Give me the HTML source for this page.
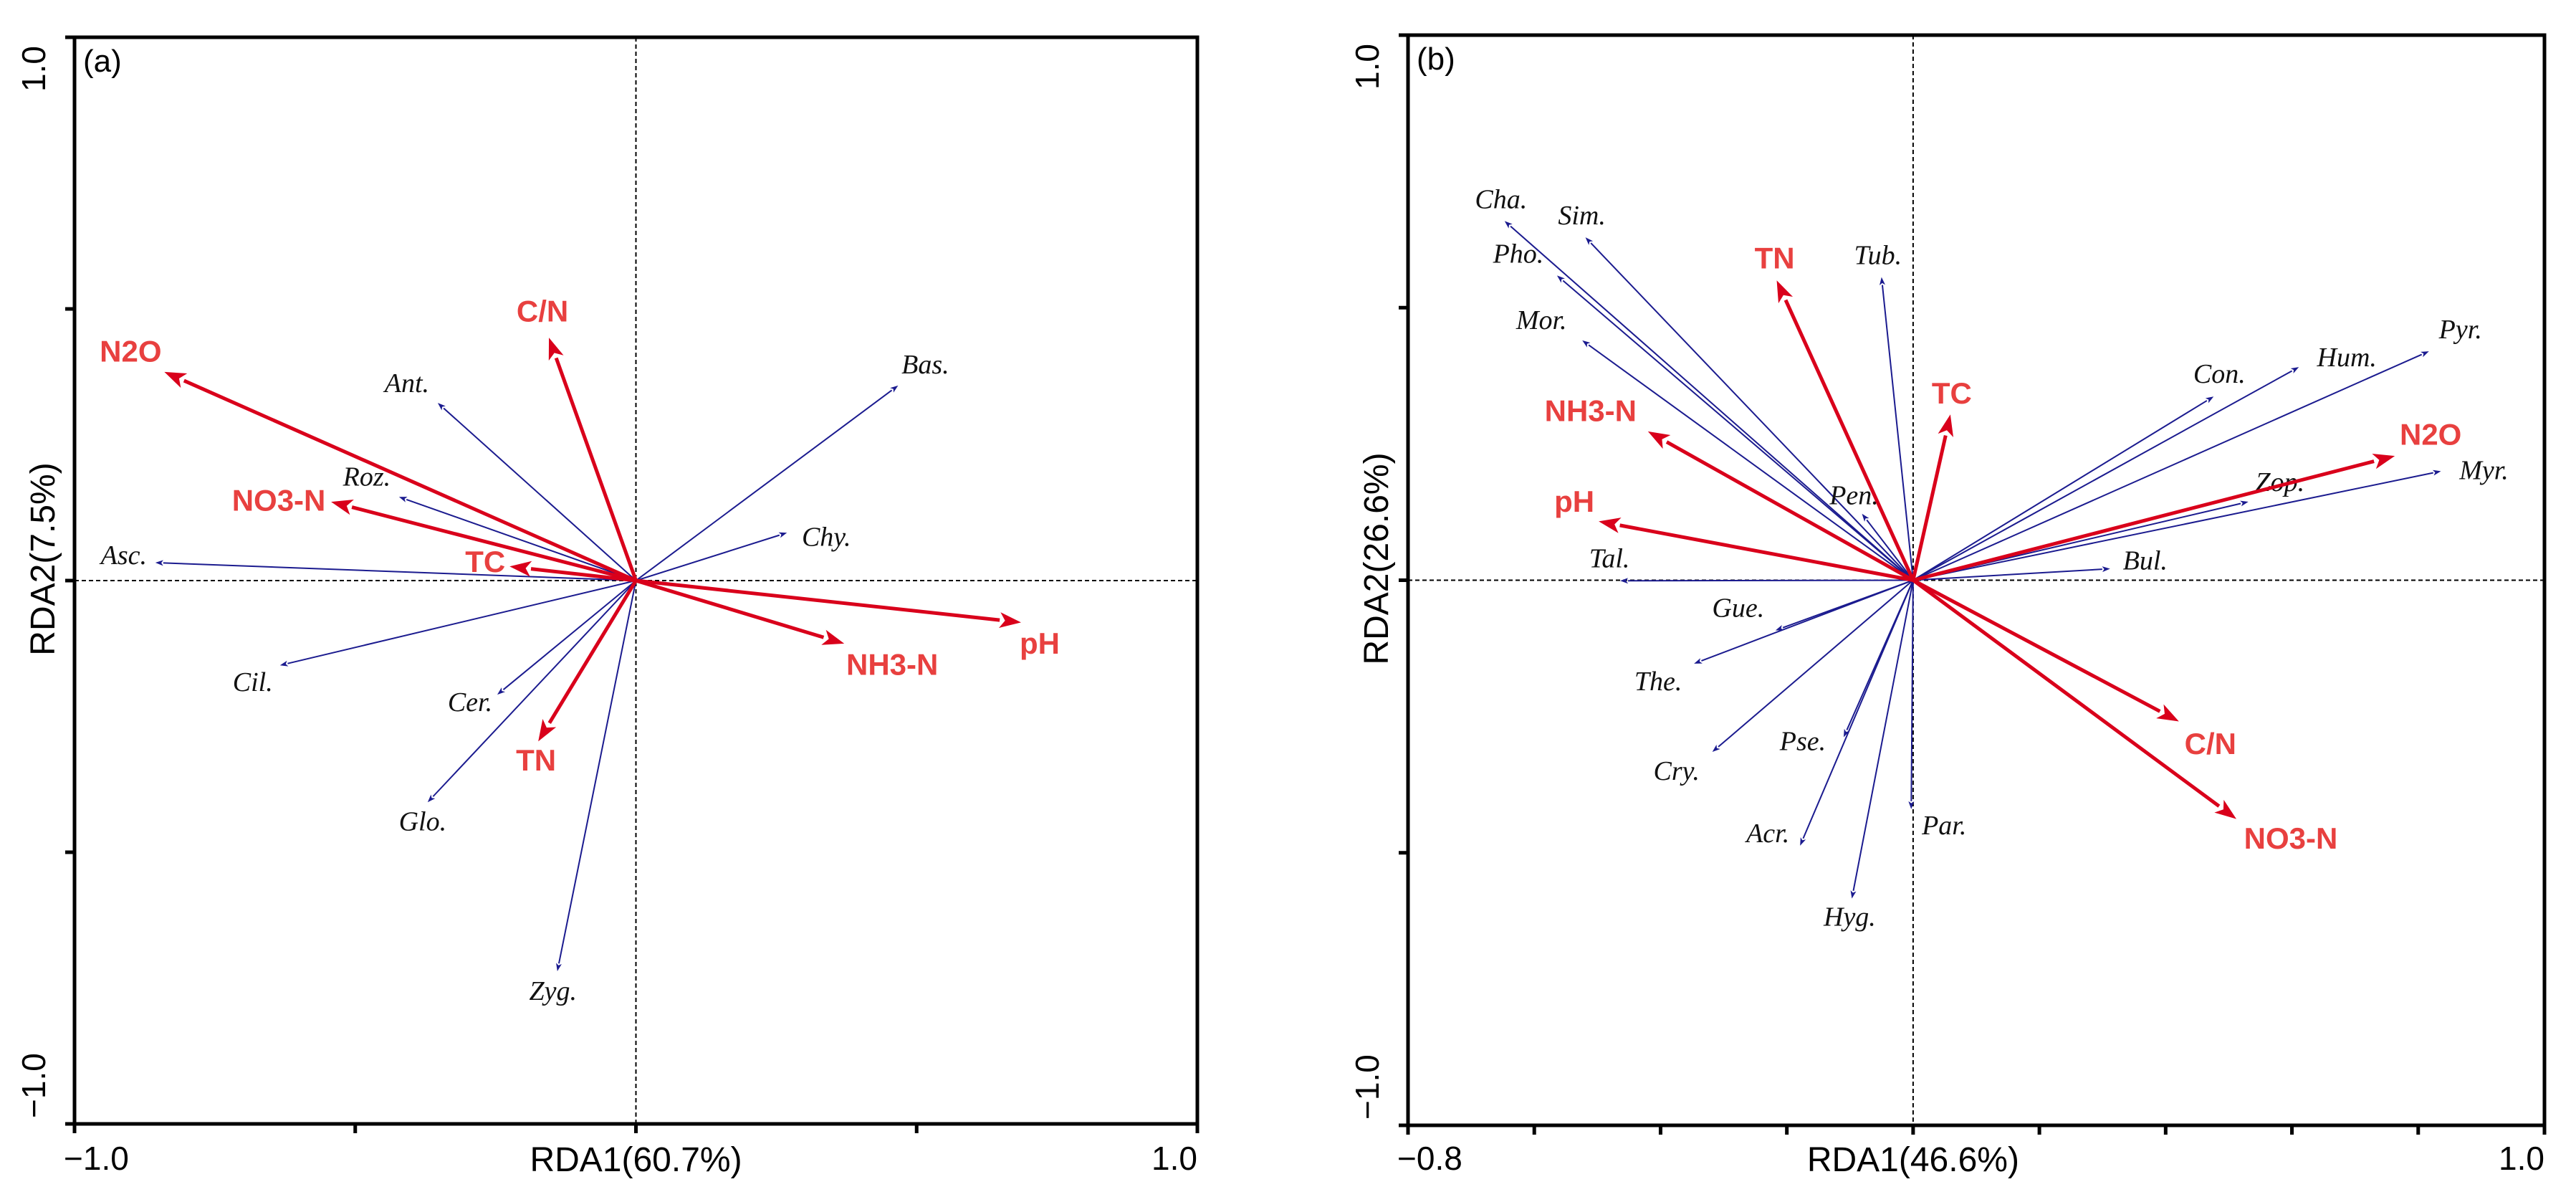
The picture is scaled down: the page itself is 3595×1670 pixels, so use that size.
<!DOCTYPE html>
<html><head><meta charset="utf-8"><style>
html,body{margin:0;padding:0;background:#fff;}
svg{display:block;}
.env{font-family:"Liberation Sans",sans-serif;font-weight:bold;font-size:42px;fill:#e8403f;}
.sp{font-family:"Liberation Serif",serif;font-style:italic;font-size:38px;fill:#111;}
.tick{font-family:"Liberation Sans",sans-serif;font-size:46px;fill:#000;}
.ttl{font-family:"Liberation Sans",sans-serif;font-size:48px;fill:#000;}
</style></head><body>
<svg id="chart" width="3595" height="1670" viewBox="0 0 3595 1670" xmlns="http://www.w3.org/2000/svg"></svg>
<script>
// Panel (a) data
const aEnvNames = ["N2O","C/N","NO3-N","TC","pH","NH3-N","TN"];
const aEnvX = [-0.840,-0.155,-0.543,-0.225,0.686,0.371,-0.174];
const aEnvY = [0.384,0.447,0.145,0.026,-0.077,-0.116,-0.296];
const aSpNames = ["Asc.","Roz.","Ant.","Bas.","Chy.","Cil.","Cer.","Glo.","Zyg."];
const aSpX = [-0.856,-0.422,-0.353,0.467,0.269,-0.634,-0.247,-0.371,-0.140];
const aSpY = [0.033,0.154,0.327,0.359,0.088,-0.156,-0.210,-0.408,-0.719];
// Panel (b) data
const bEnvNames = ["TN","TC","NH3-N","pH","N2O","C/N","NO3-N"];
const bEnvX = [-0.216,0.059,-0.420,-0.498,0.763,0.421,0.512];
const bEnvY = [0.550,0.304,0.273,0.108,0.228,-0.259,-0.438];
const bSpNames = ["Cha.","Sim.","Pho.","Mor.","Tub.","Pen.","Tal.","Gue.","The.","Cry.","Pse.","Acr.","Hyg.","Par.","Bul.","Zop.","Myr.","Con.","Hum.","Pyr."];
const bSpX = [-0.647,-0.519,-0.564,-0.524,-0.050,-0.081,-0.464,-0.218,-0.347,-0.318,-0.110,-0.179,-0.097,-0.003,0.312,0.531,0.836,0.476,0.611,0.817];
const bSpY = [0.659,0.629,0.559,0.440,0.556,0.122,-0.001,-0.092,-0.153,-0.315,-0.288,-0.487,-0.584,-0.420,0.021,0.144,0.200,0.337,0.391,0.420];

// label offsets (pixels, layout only)
const aEnvOff = [[-47,-29],[-9,-37],[-73,-2],[-34,-7],[26,29],[67,29],[-3,26]];
const aSpOff = [[-44,-10],[-45,-28],[-43,-27],[38,-29],[55,6],[-38,24],[-38,11],[-7,27],[-6,28]];
const bEnvOff = [[-3,-31],[2,-30],[-80,-29],[-34,-28],[50,-30],[44,31],[76,27]];
const bSpOff = [[-5,-30],[-5,-30],[-54,-30],[-57,-28],[-5,-30],[-11,-25],[-15,-31],[-52,-31],[-50,25],[-50,27],[-57,6],[-45,-17],[-3,26],[46,23],[49,-11],[44,-27],[60,-1],[8,-31],[67,-13],[44,-30]];

const NS = "http://www.w3.org/2000/svg";
const svg = document.getElementById("chart");
function mk(tag, attrs, parent){
  const e = document.createElementNS(NS, tag);
  for (const k in attrs) e.setAttribute(k, attrs[k]);
  (parent||svg).appendChild(e);
  return e;
}
function arrow(g, x1,y1,x2,y2,color,w,hl,hw){
  const dx=x2-x1, dy=y2-y1, L=Math.hypot(dx,dy), ux=dx/L, uy=dy/L;
  const bx=x2-ux*hl, by=y2-uy*hl;
  const ln = mk("line",{x1:x1,y1:y1,x2:bx,y2:by,stroke:color,"stroke-width":w},g);
  
  
  const p = mk("polygon",{points:`${x2},${y2} ${bx-uy*hw/2},${by+ux*hw/2} ${bx+ux*hl*0.25},${by+uy*hl*0.25} ${bx+uy*hw/2},${by-ux*hw/2}`,fill:color},g);
  
  
}
function panel(o){
  const g = mk("g",{});
  
  
  const sx = v => o.L + (v - o.xmin)/(o.xmax-o.xmin)*(o.R-o.L);
  const sy = v => o.B - (v + 1)/2*(o.B-o.T);
  const cx = sx(0), cy = sy(0);
  const zx = mk("line",{x1:o.L,y1:cy,x2:o.R,y2:cy,stroke:"#000","stroke-width":2,"stroke-dasharray":"6,4"},g);
  
  
  const zy = mk("line",{x1:cx,y1:o.T,x2:cx,y2:o.B,stroke:"#000","stroke-width":2,"stroke-dasharray":"6,4"},g);
  
  
  o.spN.forEach((n,i)=>{
    const x=sx(o.spX[i]), y=sy(o.spY[i]);
    arrow(g,cx,cy,x,y,"#1b1b8f",2,11,8);
    const t = mk("text",{x:x+o.spO[i][0],y:y+o.spO[i][1],"text-anchor":"middle","dominant-baseline":"central",class:"sp"},g);
    t.textContent=n;
    
    
  });
  o.envN.forEach((n,i)=>{
    const x=sx(o.envX[i]), y=sy(o.envY[i]);
    arrow(g,cx,cy,x,y,"#d9001b",5,30,22);
    const t = mk("text",{x:x+o.envO[i][0],y:y+o.envO[i][1],"text-anchor":"middle","dominant-baseline":"central",class:"env"},g);
    t.textContent=n;
    
    
  });
  const f = mk("rect",{x:o.L,y:o.T,width:o.R-o.L,height:o.B-o.T,fill:"none",stroke:"#000","stroke-width":5},g);
  
  
  for (let v=o.xmin; v<=o.xmax+1e-9; v+=o.xstep){
    const tk = mk("line",{x1:sx(v),y1:o.B,x2:sx(v),y2:o.B+13,stroke:"#000","stroke-width":5},g);
    
    
  }
  for (let v=-1; v<=1.0001; v+=0.5){
    const tk = mk("line",{x1:o.L-13,y1:sy(v),x2:o.L,y2:sy(v),stroke:"#000","stroke-width":5},g);
    
    
  }
  const t1 = mk("text",{x:o.L-15,y:1632,class:"tick"},g); t1.textContent=o.xminLabel;
  
  
  const t2 = mk("text",{x:o.R,y:1632,"text-anchor":"end",class:"tick"},g); t2.textContent="1.0";
  
  
  const yl = o.L-57;
  const t3 = mk("text",{x:0,y:0,transform:`translate(${yl+16},${o.T+12}) rotate(-90)`,"text-anchor":"end",class:"tick"},g); t3.textContent="1.0";
  
  
  const t4 = mk("text",{x:0,y:0,transform:`translate(${yl+16},${o.B-8}) rotate(-90)`,"text-anchor":"start",class:"tick"},g); t4.textContent="\u22121.0";
  
  
  const xt = mk("text",{x:cx,y:1634,"text-anchor":"middle",class:"ttl"},g); xt.textContent=o.xTitle;
  
  
  const yt = mk("text",{x:0,y:0,transform:`translate(${o.L-28},${cy-30}) rotate(-90)`,"text-anchor":"middle",class:"ttl"},g); yt.textContent=o.yTitle;
  
  
  const pl = mk("text",{x:o.L+12,y:o.T+48,class:"tick",style:"font-size:44px"},g); pl.textContent=o.tag;
  
  
}
panel({name:"panel-a",L:104,R:1671,T:52,B:1568,xmin:-1,xmax:1,xstep:0.5,xminLabel:"\u22121.0",
  xTitle:"RDA1(60.7%)",yTitle:"RDA2(7.5%)",tag:"(a)",
  envN:aEnvNames,envX:aEnvX,envY:aEnvY,envO:aEnvOff,spN:aSpNames,spX:aSpX,spY:aSpY,spO:aSpOff});
panel({name:"panel-b",L:1965,R:3551,T:49,B:1570,xmin:-0.8,xmax:1.0,xstep:0.2,xminLabel:"\u22120.8",
  xTitle:"RDA1(46.6%)",yTitle:"RDA2(26.6%)",tag:"(b)",
  envN:bEnvNames,envX:bEnvX,envY:bEnvY,envO:bEnvOff,spN:bSpNames,spX:bSpX,spY:bSpY,spO:bSpOff});
</script>
</body></html>
